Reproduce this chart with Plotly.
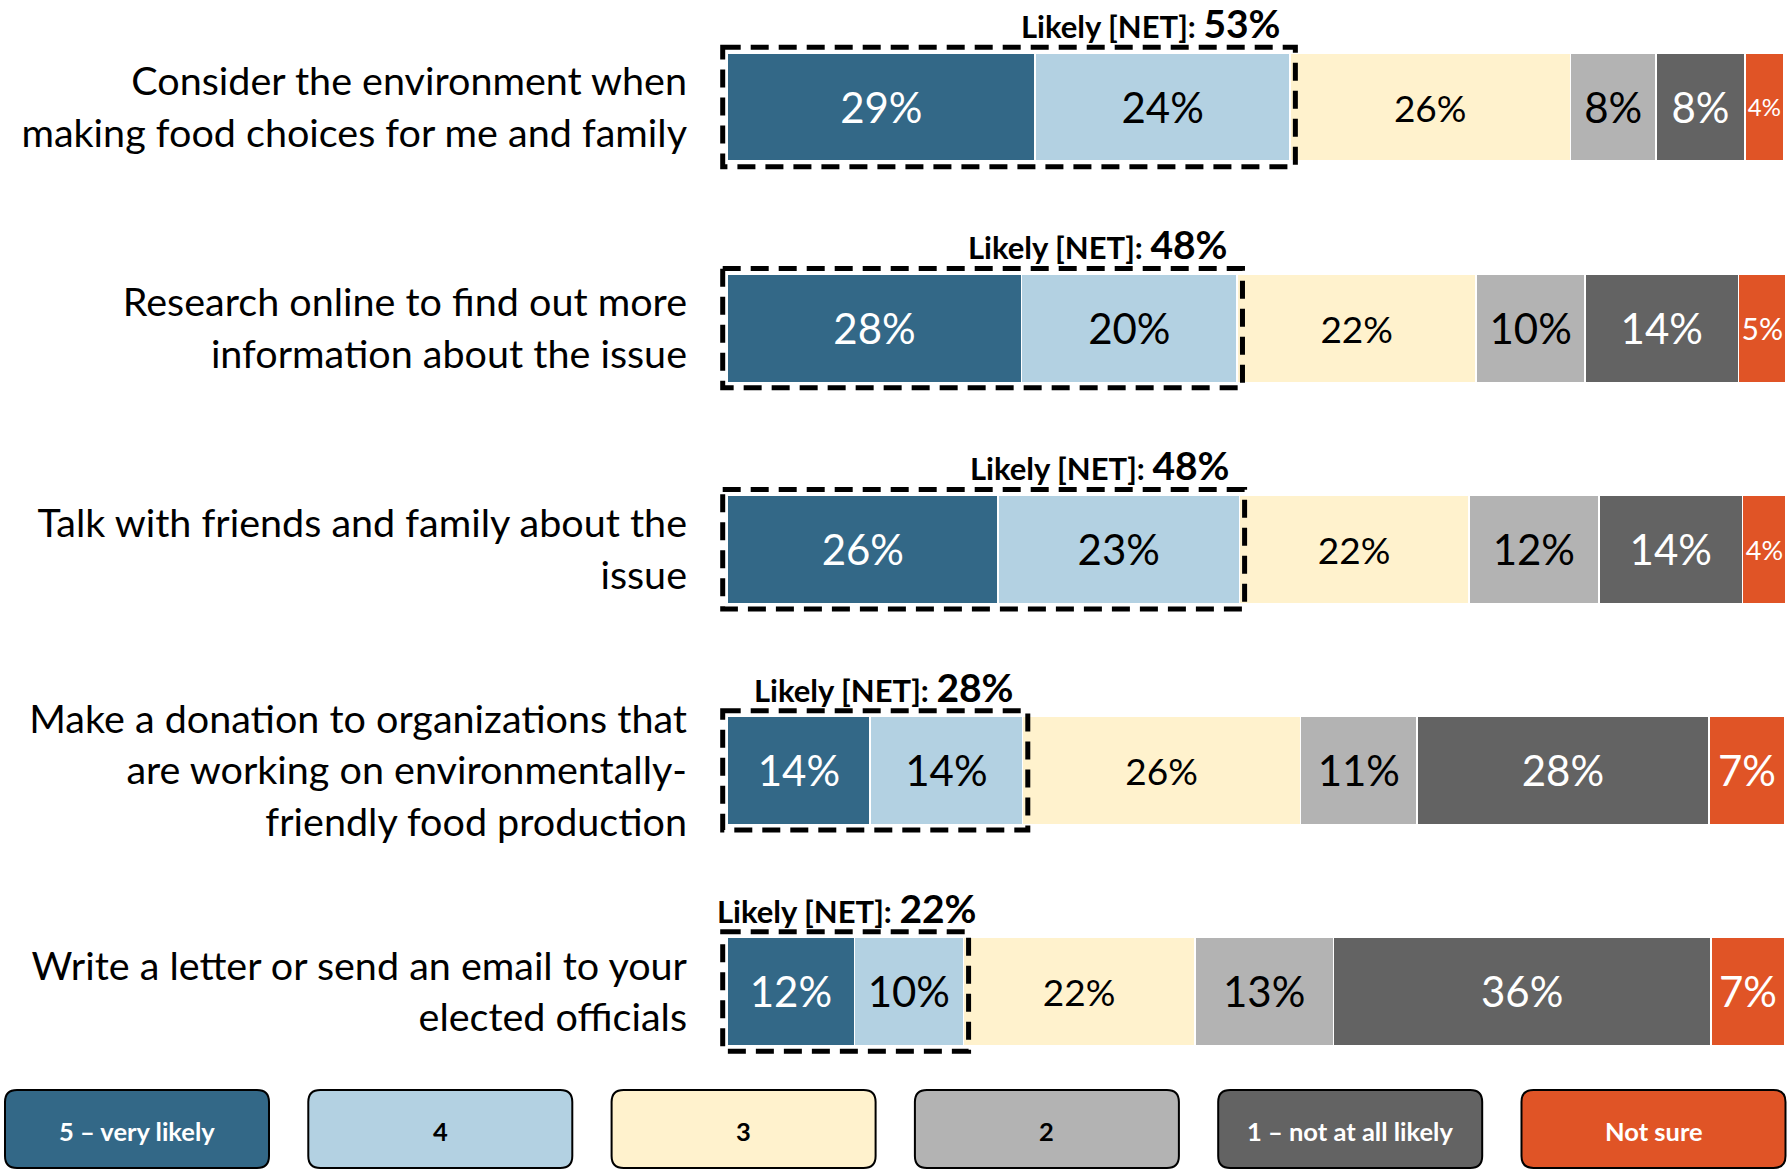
import plotly.graph_objects as go

# survey rows, top to bottom
categories = [
    "Consider the environment when<br>making food choices for me and family",
    "Research online to find out more<br>information about the issue",
    "Talk with friends and family about the<br>issue",
    "Make a donation to organizations that<br>are working on environmentally-<br>friendly food production",
    "Write a letter or send an email to your<br>elected officials",
]

# shares per answer (bar widths)
very_likely = [29.1, 27.8, 25.6, 13.5, 12.0]
likely_4 = [24.1, 20.4, 22.8, 14.4, 10.3]
neutral_3 = [26.5, 22.6, 21.7, 26.3, 21.9]
unlikely_2 = [8.1, 10.3, 12.3, 11.0, 13.1]
not_at_all = [8.4, 14.5, 13.6, 27.6, 35.7]
not_sure = [3.7, 4.5, 4.1, 7.2, 7.0]

# printed labels
lbl_very_likely = ["29%", "28%", "26%", "14%", "12%"]
lbl_likely_4 = ["24%", "20%", "23%", "14%", "10%"]
lbl_neutral_3 = ["26%", "22%", "22%", "26%", "22%"]
lbl_unlikely_2 = ["8%", "10%", "12%", "11%", "13%"]
lbl_not_at_all = ["8%", "14%", "14%", "28%", "36%"]
lbl_not_sure = ["4%", "5%", "4%", "7%", "7%"]
net_labels = ["53%", "48%", "48%", "28%", "22%"]

answer_names = ["5 \u2013 very likely", "4", "3", "2", "1 \u2013 not at all likely", "Not sure"]

FONT = "Lato"
W, H = 1788, 1169
ML, MR, MT, MB = 719, 3, 0, 67
PW, PH = W - ML - MR, H - MT - MB

series = [
    (very_likely, lbl_very_likely, "#336887", "white", 42),
    (likely_4, lbl_likely_4, "#B3D1E2", "black", 42),
    (neutral_3, lbl_neutral_3, "#FFF2CD", "black", 37),
    (unlikely_2, lbl_unlikely_2, "#B3B3B3", "black", 42),
    (not_at_all, lbl_not_at_all, "#636363", "white", 42),
    (not_sure, lbl_not_sure, "#E05426", "white", 42),
]

rows = list(range(len(categories)))
fig = go.Figure()
for (vals, lbls, col, tcol, tsize), name in zip(series, answer_names):
    fig.add_trace(go.Bar(
        x=vals, y=rows, orientation="h", name=name,
        text=lbls, textposition="inside", insidetextanchor="middle", textangle=0,
        textfont=dict(family=FONT, size=tsize, color=tcol),
        marker=dict(color=col, line=dict(color="white", width=1.5)),
        width=0.49,
    ))

# dashed "Likely [NET]" boxes
for i in rows:
    net = very_likely[i] + likely_4[i]
    fig.add_shape(type="rect", xref="x", yref="y",
                  x0=-0.45, x1=net + 0.5, y0=i - 0.27, y1=i + 0.27,
                  line=dict(color="black", width=5, dash="18px,10px"))
    if net > 25:
        ax, anchor, shift = net, "right", -7
    else:
        ax, anchor, shift = 0, "left", -12
    fig.add_annotation(
        x=ax, y=i - 0.379, xref="x", yref="y", xanchor=anchor, yanchor="middle", xshift=shift,
        text="<b>Likely [NET]: <span style='font-size:39px'>%s</span></b>" % net_labels[i],
        showarrow=False, font=dict(family=FONT, size=31, color="black"))


def px_x(p):
    return (p - ML) / PW


def px_y(p):
    return (MT + PH - p) / PH


# legend boxes drawn below the plot
leg_colors = ["#336887", "#B3D1E2", "#FFF2CD", "#B3B3B3", "#636363", "#E05426"]
leg_text = ["white", "black", "black", "black", "white", "white"]
bw, gap, top, bot, r = 264, 39.3, 1090, 1168, 12
for k, name in enumerate(answer_names):
    x0 = 5 + k * (bw + gap)
    x1 = x0 + bw
    path = "M %f,%f L %f,%f Q %f,%f %f,%f L %f,%f Q %f,%f %f,%f L %f,%f Q %f,%f %f,%f L %f,%f Q %f,%f %f,%f Z" % (
        px_x(x0 + r), px_y(top), px_x(x1 - r), px_y(top),
        px_x(x1), px_y(top), px_x(x1), px_y(top + r),
        px_x(x1), px_y(bot - r),
        px_x(x1), px_y(bot), px_x(x1 - r), px_y(bot),
        px_x(x0 + r), px_y(bot),
        px_x(x0), px_y(bot), px_x(x0), px_y(bot - r),
        px_x(x0), px_y(top + r),
        px_x(x0), px_y(top), px_x(x0 + r), px_y(top),
    )
    fig.add_shape(type="path", xref="paper", yref="paper", path=path,
                  fillcolor=leg_colors[k], line=dict(color="black", width=2), layer="above")
    fig.add_annotation(x=px_x((x0 + x1) / 2), y=px_y((top + bot) / 2 + 2), xref="paper", yref="paper",
                       xanchor="center", yanchor="middle",
                       text="<b>%s</b>" % name, showarrow=False,
                       font=dict(family=FONT, size=25.5, color=leg_text[k]))

fig.update_layout(
    width=W, height=H, barmode="stack", showlegend=False,
    margin=dict(l=ML, r=MR, t=MT, b=MB),
    plot_bgcolor="white", paper_bgcolor="white",
    font=dict(family=FONT, color="black"),
)
fig.update_xaxes(visible=False, range=[-0.8, 100])
fig.update_yaxes(
    range=[4.5, -0.484], tickvals=rows, ticktext=categories,
    showgrid=False, zeroline=False, showline=False,
    tickfont=dict(family=FONT, size=39.5, color="black"),
    ticklabelstandoff=31,
)

fig.write_html("out.html", config={"displayModeBar": False},
               post_script="document.body.style.margin='0';")
